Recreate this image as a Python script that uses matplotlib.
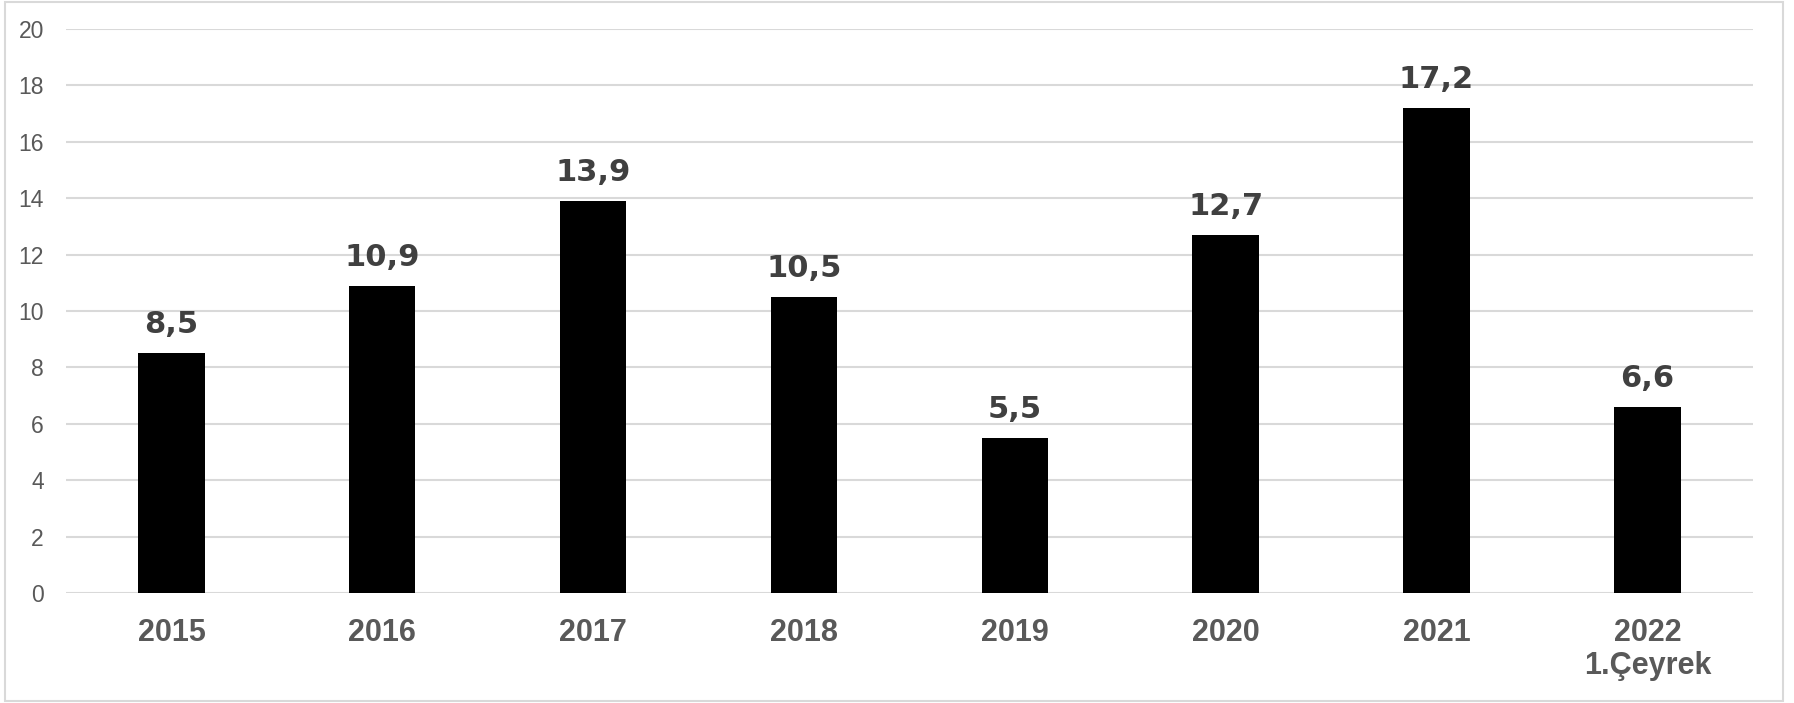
import matplotlib.pyplot as plt
from matplotlib.patches import Rectangle

years = ['2015', '2016', '2017', '2018', '2019', '2020', '2021', '2022\n1.Çeyrek']
values = [8.5, 10.9, 13.9, 10.5, 5.5, 12.7, 17.2, 6.6]
yticks = [0, 2, 4, 6, 8, 10, 12, 14, 16, 18, 20]

fig = plt.figure(figsize=(17.94, 7.03), dpi=100)
ax = fig.add_axes([0.0368, 0.1565, 0.9402, 0.8022])

x = range(len(years))
ax.bar(x, values, width=0.315, color='black', zorder=3)

# value labels with comma decimal
for i, v in enumerate(values):
    ax.text(i, v + 0.5, f"{v:.1f}".replace('.', ','), ha='center', va='bottom',
            fontsize=22, fontweight='bold', color='#404040', family='DejaVu Sans')

ax.set_xlim(-0.5, len(years) - 0.5)
ax.set_ylim(0, 20)
ax.set_yticks(yticks)
ax.set_yticklabels([str(t) for t in yticks], fontsize=16.5, color='#595959', family='Liberation Sans')
ax.set_xticks(list(x))
ax.set_xticklabels(years, fontsize=22, fontweight='bold', color='#595959', family='Liberation Sans',
                   linespacing=1.15, va='top')
ax.tick_params(axis='both', length=0)
ax.tick_params(axis='x', pad=18)
ax.tick_params(axis='y', pad=16)
ax.grid(axis='y', color='#d9d9d9', linewidth=1.5, zorder=0)
for s in ax.spines.values():
    s.set_visible(False)

# outer frame of the chart area
fig.patches.append(Rectangle((0.003, 0.003), 0.991, 0.994, transform=fig.transFigure,
                             fill=False, edgecolor='#d9d9d9', linewidth=1.5))

fig.savefig('out.png', dpi=100)
